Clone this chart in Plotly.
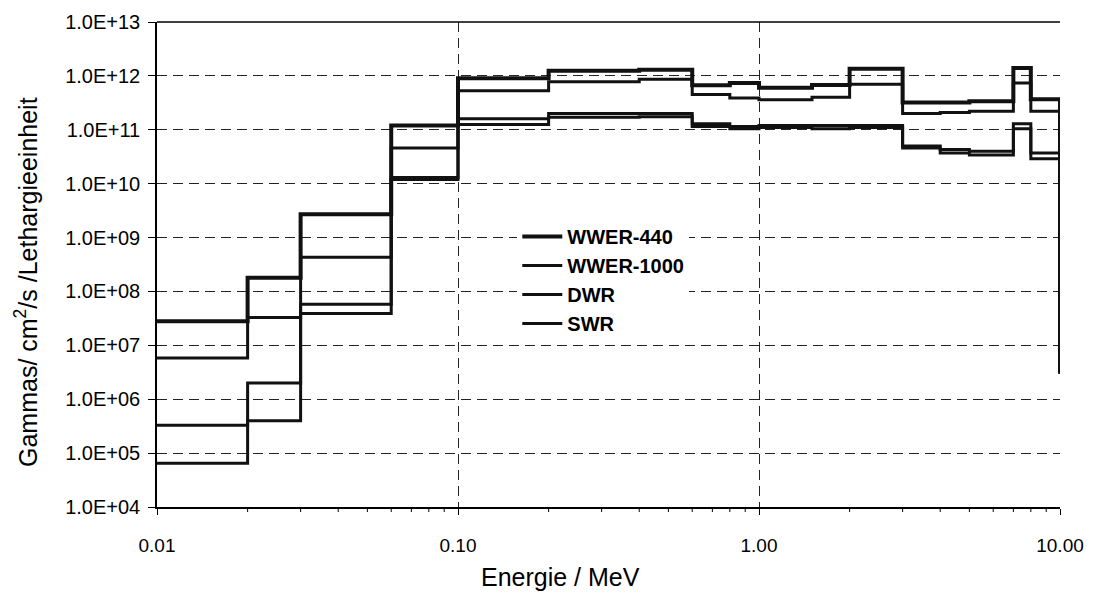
import math
import plotly.graph_objects as go

# Energy bin edges (MeV)
edges = [0.01, 0.02, 0.03, 0.06, 0.1, 0.2, 0.4, 0.6, 0.8, 1.0, 1.5, 2.0, 3.0, 4.0, 5.0, 7.0, 8.0, 10.0]

# Bin values (17 bins) + final drop value at 10 MeV
wwer440 = [2.8e7, 1.8e8, 2.7e9, 1.2e11, 9.0e11, 1.25e12, 1.3e12, 6.7e11, 7.4e11, 6.0e11, 6.8e11,
           1.35e12, 3.2e11, 3.2e11, 3.4e11, 1.4e12, 3.7e11, 3.0e6]
wwer1000 = [5.8e6, 3.3e7, 4.3e8, 4.6e10, 5.3e11, 7.8e11, 8.7e11, 4.5e11, 3.9e11, 3.6e11, 4.0e11,
            7.0e11, 2.0e11, 2.1e11, 2.2e11, 7.4e11, 2.2e11, 3.0e6]
dwr = [3.3e5, 2.0e6, 5.8e7, 1.3e10, 1.6e11, 2.0e11, 2.0e11, 1.3e11, 1.15e11, 1.2e11, 1.2e11,
       1.2e11, 5.0e10, 4.3e10, 4.0e10, 1.3e11, 3.7e10, 3.0e6]
swr = [6.5e4, 4.0e5, 3.9e7, 1.2e10, 1.25e11, 1.7e11, 1.75e11, 1.15e11, 1.05e11, 1.1e11, 1.05e11,
       1.1e11, 4.6e10, 3.7e10, 3.4e10, 1.05e11, 2.9e10, 3.0e6]

names = ["WWER-440", "WWER-1000", "DWR", "SWR"]
series = [wwer440, wwer1000, dwr, swr]
widths = [4, 3, 3, 3]

y_tickvals = [1e4, 1e5, 1e6, 1e7, 1e8, 1e9, 1e10, 1e11, 1e12, 1e13]
y_ticktext = ["1.0E+04", "1.0E+05", "1.0E+06", "1.0E+07", "1.0E+08", "1.0E+09",
              "1.0E+10", "1.0E+11", "1.0E+12", "1.0E+13"]
x_tickvals = [0.01, 0.1, 1, 10]
x_ticktext = ["0.01", "0.10", "1.00", "10.00"]
x_minor_vals = [m * d for d in (0.01, 0.1, 1.0) for m in range(2, 10)]

FONT = "Liberation Sans, Arial, sans-serif"
PLOT_H = 485  # plot area height in px
X_LOG_RANGE = [-2, 1]

fig = go.Figure()
for n, s, w in zip(names, series, widths):
    fig.add_trace(go.Scatter(
        x=edges, y=s, mode="lines", name=n,
        line=dict(color="#111111", width=w, shape="hv"),
    ))

grid = dict(showgrid=True, gridcolor="#222222", gridwidth=1, griddash="10px,6px")

shapes = [dict(type="line", xref="paper", yref="paper", x0=0, x1=1, y0=1, y1=1,
               line=dict(color="black", width=1.5))]
# minor tick marks below the x axis
for v in x_minor_vals:
    px = (math.log10(v) - X_LOG_RANGE[0]) / (X_LOG_RANGE[1] - X_LOG_RANGE[0])
    shapes.append(dict(type="line", xref="paper", yref="paper", x0=px, x1=px,
                       y0=0, y1=-5 / PLOT_H, line=dict(color="black", width=1)))

fig.update_layout(
    width=1093, height=585,
    margin=dict(l=149, r=41, t=14, b=86),
    paper_bgcolor="white", plot_bgcolor="white",
    font=dict(family=FONT, color="black"),
    showlegend=True,
    legend=dict(
        x=0.399, y=0.598, xanchor="left", yanchor="top",
        bgcolor="white", borderwidth=0,
        font=dict(family=FONT, size=20, color="black", weight="bold"),
        itemwidth=40,
    ),
    xaxis=dict(
        type="log", range=X_LOG_RANGE, automargin=False,
        tickvals=x_tickvals, ticktext=x_ticktext,
        tickfont=dict(size=19), ticks="outside", ticklen=6, tickcolor="black",
        ticklabelstandoff=14,
        showline=True, linecolor="black", linewidth=1.5,
        zeroline=False, **grid,
    ),
    yaxis=dict(
        type="log", range=[4, 13], automargin=False,
        tickvals=y_tickvals, ticktext=y_ticktext,
        tickfont=dict(size=20), ticks="outside", ticklen=7, tickcolor="black",
        ticklabelstandoff=4,
        showline=True, linecolor="black", linewidth=1.5,
        zeroline=False, **grid,
    ),
    shapes=shapes,
    annotations=[
        dict(text="Energie / MeV", xref="paper", yref="paper",
             x=(560 - 157) / 903, y=(507 - 577) / 485, xanchor="center", yanchor="middle",
             showarrow=False, font=dict(family=FONT, size=25, color="black")),
        dict(text="Gammas/ cm<sup>2</sup>/s /Lethargieeinheit", xref="paper", yref="paper",
             x=(26 - 157) / 903, y=(507 - 282) / 485, xanchor="center", yanchor="middle",
             textangle=-90, showarrow=False, font=dict(family=FONT, size=25, color="black")),
    ],
)

fig.write_html("out.html")
